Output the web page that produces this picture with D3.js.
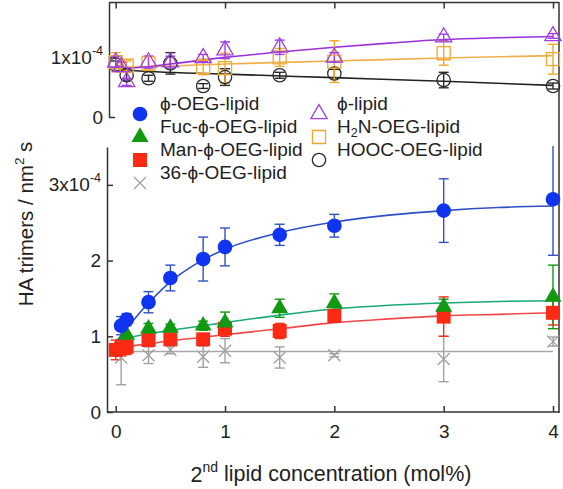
<!DOCTYPE html>
<html><head><meta charset="utf-8">
<script src="https://cdn.jsdelivr.net/npm/d3@7"></script>
<style>
html,body{margin:0;padding:0;background:#fff;}
svg{display:block;font-family:"Liberation Sans",Arial,sans-serif;}
</style></head>
<body><svg id="c" width="563" height="489"></svg>
<script>
// values in units of 1e-4 HA trimers / nm^2 s
const xTicks = [0, 1, 2, 3, 4];
const yTicksBottom = [0, 1, 2, 3];
const yTicksTop = [0, 1];

// bottom panel
const concOEG = [0.05, 0.1, 0.3, 0.5, 0.8, 1, 1.5, 2, 3, 4];
const valOEG  = [1.14, 1.22, 1.45, 1.77, 2.02, 2.18, 2.34, 2.46, 2.66, 2.81];
const errOEG  = [0.12, 0.08, 0.14, 0.17, 0.29, 0.25, 0.14, 0.15, 0.42, 0.74];

const concFuc = [0.1, 0.3, 0.5, 0.8, 1, 1.5, 2, 3, 4];
const valFuc  = [1.02, 1.10, 1.11, 1.14, 1.18, 1.37, 1.44, 1.39, 1.52];
const errFuc  = [0.15, 0.07, 0.05, 0.06, 0.14, 0.12, 0.12, 0.10, 0.42];

const concMan = [0, 0.05, 0.1, 0.3, 0.5, 0.8, 1, 1.5, 2, 3, 4];
const valMan  = [0.82, 0.84, 0.86, 0.95, 0.96, 0.96, 1.10, 1.07, 1.27, 1.26, 1.31];
const errMan  = [0.13, 0.10, 0.10, 0.07, 0.06, 0.07, 0.10, 0.10, 0.05, 0.26, 0.16];

const conc36 = [0.05, 0.3, 0.5, 0.8, 1, 1.5, 2, 3, 4];
const val36  = [0.72, 0.75, 0.82, 0.73, 0.81, 0.72, 0.75, 0.70, 0.93];
const err36  = [0.36, 0.11, 0.05, 0.14, 0.16, 0.14, 0.02, 0.30, 0.06];

// top panel
const concPhi = [0, 0.05, 0.1, 0.3, 0.5, 0.8, 1, 1.5, 2, 3, 4];
const valPhi  = [0.92, 0.84, 0.59, 0.92, 0.92, 0.99, 1.12, 1.17, 1.00, 1.34, 1.36];
const errPhi  = [0.10, 0.08, 0.06, 0.10, 0.10, 0.06, 0.14, 0.12, 0.08, 0.05, 0.04];

const concH2N = [0, 0.1, 0.3, 0.8, 1, 1.5, 2, 3, 4];
const valH2N  = [0.92, 0.86, 0.90, 0.84, 0.82, 1.00, 0.93, 1.07, 0.97];
const errH2N  = [0.16, 0.08, 0.12, 0.13, 0.25, 0.15, 0.35, 0.20, 0.25];

const concHOOC = [0, 0.1, 0.3, 0.5, 0.8, 1, 1.5, 2, 3, 4];
const valHOOC  = [0.88, 0.70, 0.65, 0.90, 0.52, 0.67, 0.70, 0.73, 0.62, 0.52];
const errHOOC  = [0.06, 0.08, 0.05, 0.18, 0.04, 0.14, 0.05, 0.07, 0.13, 0.05];

// fitted curves
const fitXOEG = [0, 0.1, 0.25, 0.5, 0.75, 1, 1.5, 2, 2.5, 3, 3.5, 4];
const fitOEG  = [0.92, 1.10, 1.36, 1.72, 1.97, 2.15, 2.37, 2.51, 2.60, 2.66, 2.70, 2.72];
const fitXSugar = [0, 0.25, 0.5, 0.75, 1, 1.5, 2, 2.5, 3, 3.5, 4];
const fitFuc  = [0.95, 1.02, 1.08, 1.13, 1.18, 1.28, 1.36, 1.41, 1.44, 1.46, 1.47];
const fitMan  = [0.85, 0.89, 0.94, 0.98, 1.02, 1.10, 1.18, 1.23, 1.27, 1.29, 1.31];
const fitX36 = [0, 4];
const fit36  = [0.80, 0.80];
const fitXPhi = [0, 0.1, 0.5, 1, 1.5, 2, 2.5, 3, 3.5, 4];
const fitPhi  = [0.87, 0.82, 0.89, 1.00, 1.09, 1.17, 1.24, 1.30, 1.33, 1.35];
const fitXLin = [0, 0.1, 1, 2, 3, 4];
const fitH2N  = [0.87, 0.84, 0.89, 0.94, 0.99, 1.03];
const fitHOOC = [0.88, 0.79, 0.72, 0.66, 0.60, 0.53];

const svg = d3.select("#c");
const x = d3.scaleLinear().domain([0, 4]).range([115.7, 553]);
const yB = d3.scaleLinear().domain([0, 3.5]).range([412, 147]);
const yT = d3.scaleLinear().domain([0, 1.93]).range([117, 2]);
const AX = "#333";

// frame lines
svg.append("line").attr("x1",109).attr("x2",559).attr("y1",2.5).attr("y2",2.5).attr("stroke",AX).attr("stroke-width",1.5);
svg.append("line").attr("x1",559).attr("x2",559).attr("y1",2).attr("y2",413).attr("stroke",AX).attr("stroke-width",1.5);

// bottom axes
const gx = svg.append("g").attr("transform","translate(0,412)")
  .call(d3.axisBottom(x).tickValues(xTicks).tickSizeInner(-6).tickSizeOuter(0).tickPadding(16).tickFormat(d3.format("d")));
gx.select(".domain").attr("d","M107,0H559");
const gxt = svg.append("g").attr("transform","translate(0,2.5)")
  .call(d3.axisTop(x).tickValues(xTicks).tickSizeInner(-6).tickSizeOuter(0).tickFormat(""));
gxt.select(".domain").remove();

const gyB = svg.append("g").attr("transform","translate(107,0)")
  .call(d3.axisLeft(yB).tickValues(yTicksBottom).tickSizeInner(-6).tickSizeOuter(0).tickPadding(6).tickFormat(d3.format("d")));
const gyT = svg.append("g").attr("transform","translate(109,0)")
  .call(d3.axisLeft(yT).tickValues(yTicksTop).tickSizeInner(-6).tickSizeOuter(0).tickPadding(6).tickFormat(d3.format("d")));

[gx,gxt,gyB,gyT].forEach(g=>{
  g.selectAll("path,line").attr("stroke",AX).attr("stroke-width",1.5);
  g.selectAll("text").attr("font-size",19).attr("fill","#222").attr("font-family","'Liberation Sans',Arial,sans-serif");
});
gx.selectAll("text").attr("dy","0.5em");
function sciLabel(g, v){
  g.selectAll(".tick text").filter(d=>d===v).each(function(){
    const t = d3.select(this).text("");
    t.append("tspan").text(v+"x10");
    t.append("tspan").text("-4").attr("font-size",12.5).attr("dy","-0.75em");
  });
}
sciLabel(gyB,3); sciLabel(gyT,1);

// clip
svg.append("clipPath").attr("id","clipB").append("rect").attr("x",100).attr("y",146).attr("width",470).attr("height",280);

const line = (yS)=> d3.line().x(d=>x(d[0])).y(d=>yS(d[1])).curve(d3.curveMonotoneX);
function drawFit(xs, ys, yS, color, clip){
  svg.append("path").datum(xs.map((v,i)=>[v,ys[i]])).attr("d", line(yS))
    .attr("fill","none").attr("stroke",color).attr("stroke-width",1.6)
    .attr("clip-path", clip?"url(#clipB)":null);
}
function drawErr(xs, ys, es, yS, color, clip){
  const g = svg.append("g").attr("stroke",color).attr("stroke-width",1.4).attr("clip-path", clip?"url(#clipB)":null);
  xs.forEach((c,i)=>{
    const cx = x(c), y1 = yS(ys[i]+es[i]), y2 = yS(ys[i]-es[i]);
    g.append("line").attr("x1",cx).attr("x2",cx).attr("y1",y1).attr("y2",y2);
    g.append("line").attr("x1",cx-5).attr("x2",cx+5).attr("y1",y1).attr("y2",y1);
    g.append("line").attr("x1",cx-5).attr("x2",cx+5).attr("y1",y2).attr("y2",y2);
  });
}
const crossPath = s => `M${-s},${-s}L${s},${s}M${-s},${s}L${s},${-s}`;
function marker(g, type, cx, cy, color){
  let p;
  if(type==="circle") p = g.append("path").attr("d", d3.symbol(d3.symbolCircle,170)()).attr("fill",color);
  else if(type==="tri") p = g.append("path").attr("d", d3.symbol(d3.symbolTriangle,125)()).attr("fill",color);
  else if(type==="square") p = g.append("path").attr("d", d3.symbol(d3.symbolSquare,196)()).attr("fill",color);
  else if(type==="cross") p = g.append("path").attr("d", crossPath(6)).attr("fill","none").attr("stroke",color).attr("stroke-width",1.3);
  else if(type==="otri") p = g.append("path").attr("d", d3.symbol(d3.symbolTriangle,115)()).attr("fill","none").attr("stroke",color).attr("stroke-width",1.3);
  else if(type==="osquare") p = g.append("path").attr("d", d3.symbol(d3.symbolSquare,170)()).attr("fill","none").attr("stroke",color).attr("stroke-width",1.3);
  else if(type==="ocircle") p = g.append("path").attr("d", d3.symbol(d3.symbolCircle,140)()).attr("fill","none").attr("stroke",color).attr("stroke-width",1.3);
  p.attr("transform",`translate(${cx},${cy})`);
}
function drawPts(xs, ys, yS, type, color){
  const g = svg.append("g");
  xs.forEach((c,i)=>marker(g,type,x(c),yS(ys[i]),color));
}

const C = {
  oeg:"#1034f0", oegL:"#2f4fc4",
  fuc:"#119a11", fucL:"#1aa878",
  man:"#fa2a14", manL:"#f04848",
  s36:"#a0a0a0", s36L:"#a8a8a8",
  phi:"#a040e0", phiL:"#9b30d9",
  h2n:"#f0a830", h2nL:"#eeb04a",
  hooc:"#2a2a2a", hoocL:"#222"
};

// top panel
drawFit(fitXLin, fitHOOC, yT, C.hoocL);
drawFit(fitXLin, fitH2N, yT, C.h2nL);
drawFit(fitXPhi, fitPhi, yT, C.phiL);
drawErr(concHOOC, valHOOC, errHOOC, yT, C.hooc);
drawErr(concH2N, valH2N, errH2N, yT, C.h2n);
drawErr(concPhi, valPhi, errPhi, yT, C.phi);
drawPts(concHOOC, valHOOC, yT, "ocircle", C.hooc);
drawPts(concH2N, valH2N, yT, "osquare", C.h2n);
drawPts(concPhi, valPhi, yT, "otri", C.phi);

// bottom panel
drawFit(fitX36, fit36, yB, C.s36L);
drawFit(fitXSugar, fitMan, yB, C.manL);
drawFit(fitXSugar, fitFuc, yB, C.fucL);
drawFit(fitXOEG, fitOEG, yB, C.oegL, true);
drawErr(conc36, val36, err36, yB, C.s36);
drawErr(concMan, valMan, errMan, yB, C.man);
drawErr(concFuc, valFuc, errFuc, yB, C.fuc);
drawErr(concOEG, valOEG, errOEG, yB, C.oegL, true);
drawPts(conc36, val36, yB, "cross", C.s36);
drawPts(concMan, valMan, yB, "square", C.man);
drawPts(concFuc, valFuc, yB, "tri", C.fuc);
drawPts(concOEG, valOEG, yB, "circle", C.oeg);

// legend
const legendL = [
  {t:"circle", c:C.oeg, parts:[["ϕ-OEG-lipid"]]},
  {t:"tri", c:C.fuc, parts:[["Fuc-ϕ-OEG-lipid"]]},
  {t:"square", c:C.man, parts:[["Man-ϕ-OEG-lipid"]]},
  {t:"cross", c:C.s36, parts:[["36-ϕ-OEG-lipid"]]}
];
const legendR = [
  {t:"otri", c:C.phi, parts:[["ϕ-lipid"]]},
  {t:"osquare", c:C.h2n, parts:[["H"],["2","sub"],["N-OEG-lipid"]]},
  {t:"ocircle", c:C.hooc, parts:[["HOOC-OEG-lipid"]]}
];
function drawLegend(items, mx, tx, y0, dy){
  const g = svg.append("g");
  items.forEach((it,i)=>{
    const y = y0 + i*dy;
    marker(g, it.t, mx, y, it.c);
    const t = g.append("text").attr("x",tx).attr("y",y).attr("dy","0.36em").attr("font-size",19).attr("fill","#222");
    it.parts.forEach(p=>{
      if(p[1]==="sub") t.append("tspan").text(p[0]).attr("font-size",12.5).attr("dy","0.35em");
      else t.append("tspan").text(p[0]).attr("dy", t.selectAll("tspan").size()>0 ? "-0.23em" : null);
    });
  });
}
drawLegend(legendL, 140, 160, 114, 23);
drawLegend(legendR, 319, 337, 114, 23);

// axis titles
const yt = svg.append("text").attr("transform","translate(33,224) rotate(-90)").attr("text-anchor","middle")
  .attr("font-size",20.5).attr("fill","#222");
yt.append("tspan").text("HA trimers / nm");
yt.append("tspan").text("2").attr("font-size",13.5).attr("dy","-0.7em");
yt.append("tspan").text(" s").attr("dy","0.42em");

const xt = svg.append("text").attr("x",331).attr("y",482).attr("text-anchor","middle")
  .attr("font-size",21.5).attr("fill","#222");
xt.append("tspan").text("2");
xt.append("tspan").text("nd").attr("font-size",14).attr("dy","-0.7em");
xt.append("tspan").text(" lipid concentration (mol%)").attr("dy","0.42em");
</script></body></html>
